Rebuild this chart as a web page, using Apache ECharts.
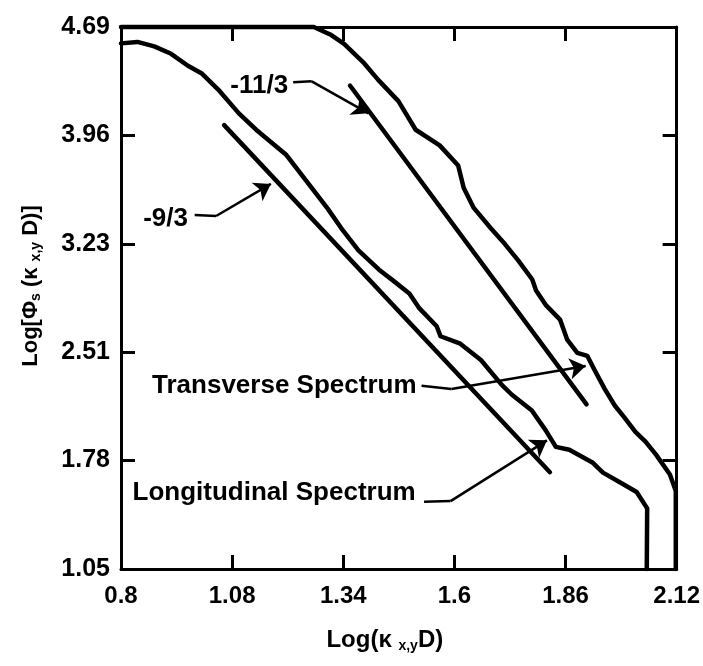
<!DOCTYPE html>
<html>
<head>
<meta charset="utf-8">
<title>Spectrum</title>
<script src="https://cdn.jsdelivr.net/npm/echarts@6/dist/echarts.min.js"></script>
<style>
  html, body { margin: 0; padding: 0; background: #fff; }
  #chart { width: 703px; height: 666px; }
</style>
</head>
<body>
<div id="chart"></div>
<script>
// axis ticks
var xTicks = [0.8, 1.064, 1.328, 1.592, 1.856, 2.12];
var xTickLabels = ['0.8', '1.08', '1.34', '1.6', '1.86', '2.12'];
var yTicks = [1.05, 1.778, 2.506, 3.234, 3.962, 4.69];
var yTickLabels = ['1.05', '1.78', '2.51', '3.23', '3.96', '4.69'];

// measured spectra  [log(k D), log(phi)]
var longitudinal = [
  [0.8, 4.58], [0.839, 4.59], [0.879, 4.56], [0.919, 4.51], [0.959, 4.43],
  [0.991, 4.38], [1.031, 4.27], [1.08, 4.11], [1.121, 4.0], [1.193, 3.83],
  [1.242, 3.65], [1.291, 3.47], [1.323, 3.34], [1.364, 3.19], [1.413, 3.06],
  [1.445, 2.99], [1.485, 2.9], [1.509, 2.8], [1.55, 2.68], [1.559, 2.613],
  [1.606, 2.563], [1.655, 2.454], [1.704, 2.288], [1.728, 2.222], [1.776, 2.114],
  [1.809, 1.981], [1.833, 1.87], [1.865, 1.851], [1.921, 1.763], [1.945, 1.697],
  [1.985, 1.633], [2.025, 1.567], [2.05, 1.457], [2.049, 1.05]
];
var transverse = [
  [0.8, 4.69], [1.258, 4.69], [1.297, 4.64], [1.33, 4.576], [1.378, 4.445],
  [1.411, 4.335], [1.459, 4.192], [1.5, 4.0], [1.557, 3.895], [1.601, 3.76],
  [1.614, 3.61], [1.638, 3.475], [1.679, 3.337], [1.712, 3.232], [1.744, 3.121],
  [1.777, 2.994], [1.786, 2.92], [1.81, 2.82], [1.843, 2.725], [1.86, 2.59],
  [1.884, 2.502], [1.908, 2.481], [1.924, 2.392], [1.949, 2.26], [1.973, 2.148],
  [1.998, 2.06], [2.022, 1.971], [2.046, 1.906], [2.071, 1.818], [2.104, 1.685],
  [2.118, 1.574], [2.118, 1.05]
];

// reference slopes
var slope9 = [[1.045, 4.031], [1.819, 1.70]];
var slope11 = [[1.344, 4.297], [1.906, 2.156]];

// annotation texts, anchored at their right end
var noteTexts = ['-11/3', '-9/3', 'Transverse Spectrum', 'Longitudinal Spectrum'];
var noteAnchors = [[1.197, 4.298], [0.959, 3.405], [1.502, 2.28], [1.5, 1.56]];
// leader lines: flat start, then the arrow segment
var leaderStarts = [[1.209, 4.319], [0.975, 3.428], [1.514, 2.28], [1.52, 1.502]];
var leaderBends = [[1.253, 4.325], [1.026, 3.421], [1.585, 2.259], [1.583, 1.506]];
var arrowTips = [[1.388, 4.11], [1.156, 3.636], [1.904, 2.413], [1.812, 1.914]];

var FONT = "'Liberation Sans', Arial, Helvetica, sans-serif";

function pickLabel(ticks, labels) {
  return function (v) {
    for (var i = 0; i < ticks.length; i++) {
      if (Math.abs(ticks[i] - v) < 1e-6) return labels[i];
    }
    return '';
  };
}

var frameLine = { show: true, lineStyle: { color: '#000', width: 3 } };
var innerTick = { show: true, inside: true, length: 14, lineStyle: { color: '#000', width: 3 } };

var chart = echarts.init(document.getElementById('chart'));

var option = {
  animation: false,
  backgroundColor: '#fff',
  grid: { left: 121, right: 26, top: 27, bottom: 97 },
  xAxis: [
    {
      type: 'value', min: 0.8, max: 2.12, position: 'bottom',
      axisLine: frameLine,
      axisTick: Object.assign({ customValues: xTicks }, innerTick),
      axisLabel: {
        customValues: xTicks, margin: 15,
        color: '#000', fontFamily: FONT, fontWeight: 'bold', fontSize: 24,
        formatter: pickLabel(xTicks, xTickLabels)
      },
      splitLine: { show: false },
      name: '{n|Log(κ }{s|x,y}{n|D)}',
      nameLocation: 'middle', nameGap: 58,
      nameTextStyle: {
        padding: [0, 28, 0, 0],
        rich: {
          n: { color: '#000', fontFamily: FONT, fontWeight: 'bold', fontSize: 24 },
          s: { color: '#000', fontFamily: FONT, fontWeight: 'bold', fontSize: 14, padding: [12, 0, 0, 0] }
        }
      }
    },
    {
      type: 'value', min: 0.8, max: 2.12, position: 'top',
      axisLine: frameLine,
      axisTick: Object.assign({ customValues: xTicks }, innerTick),
      axisLabel: { show: false },
      splitLine: { show: false }
    }
  ],
  yAxis: [
    {
      type: 'value', min: 1.05, max: 4.69, position: 'left',
      axisLine: frameLine,
      axisTick: Object.assign({ customValues: yTicks }, innerTick),
      axisLabel: {
        customValues: yTicks, margin: 11,
        color: '#000', fontFamily: FONT, fontWeight: 'bold', fontSize: 25,
        formatter: pickLabel(yTicks, yTickLabels)
      },
      splitLine: { show: false },
      name: '{n|Log[Φ}{s|s}{n| (κ }{s|x,y}{n| D)]}',
      nameLocation: 'middle', nameRotate: 90, nameGap: 78,
      nameTextStyle: {
        padding: [0, 0, 0, 24],
        rich: {
          n: { color: '#000', fontFamily: FONT, fontWeight: 'bold', fontSize: 22 },
          s: { color: '#000', fontFamily: FONT, fontWeight: 'bold', fontSize: 14, padding: [11, 0, 0, 0] }
        }
      }
    },
    {
      type: 'value', min: 1.05, max: 4.69, position: 'right',
      axisLine: frameLine,
      axisTick: Object.assign({ customValues: yTicks }, innerTick),
      axisLabel: { show: false },
      splitLine: { show: false }
    }
  ],
  series: [
    {
      name: 'Longitudinal Spectrum', type: 'line', data: longitudinal,
      showSymbol: false, clip: false, smooth: false,
      lineStyle: { color: '#000', width: 4.5, join: 'round', cap: 'round' }
    },
    {
      name: 'Transverse Spectrum', type: 'line', data: transverse,
      showSymbol: false, clip: false,
      lineStyle: { color: '#000', width: 4.5, join: 'round', cap: 'round' }
    },
    {
      name: '-9/3', type: 'line', data: slope9, showSymbol: false,
      lineStyle: { color: '#000', width: 4.5, cap: 'round' }
    },
    {
      name: '-11/3', type: 'line', data: slope11, showSymbol: false,
      lineStyle: { color: '#000', width: 4.5, cap: 'round' }
    },
    {
      name: 'leaders', type: 'lines', coordinateSystem: 'cartesian2d',
      symbol: ['none', 'none'],
      lineStyle: { color: '#000', width: 2.5, opacity: 1, curveness: 0 },
      data: leaderStarts.map(function (p, i) { return { coords: [p, leaderBends[i]] }; })
    },
    {
      name: 'arrows', type: 'lines', coordinateSystem: 'cartesian2d',
      symbol: ['none', 'arrow'], symbolSize: [6, 16],
      lineStyle: { color: '#000', width: 2.5, opacity: 1, curveness: 0 },
      data: leaderBends.map(function (p, i) { return { coords: [p, arrowTips[i]] }; })
    },
    {
      name: 'notes', type: 'scatter', symbolSize: 0, silent: true,
      itemStyle: { color: '#000', opacity: 1 },
      data: noteAnchors.map(function (p, i) { return { value: p, name: noteTexts[i] }; }),
      label: {
        show: true, position: 'left', distance: 0,
        formatter: function (p) { return p.name; },
        color: '#000', fontFamily: FONT, fontWeight: 'bold', fontSize: 26
      }
    }
  ]
};

chart.setOption(option);
window.addEventListener('resize', chart.resize);
</script>
</body>
</html>
